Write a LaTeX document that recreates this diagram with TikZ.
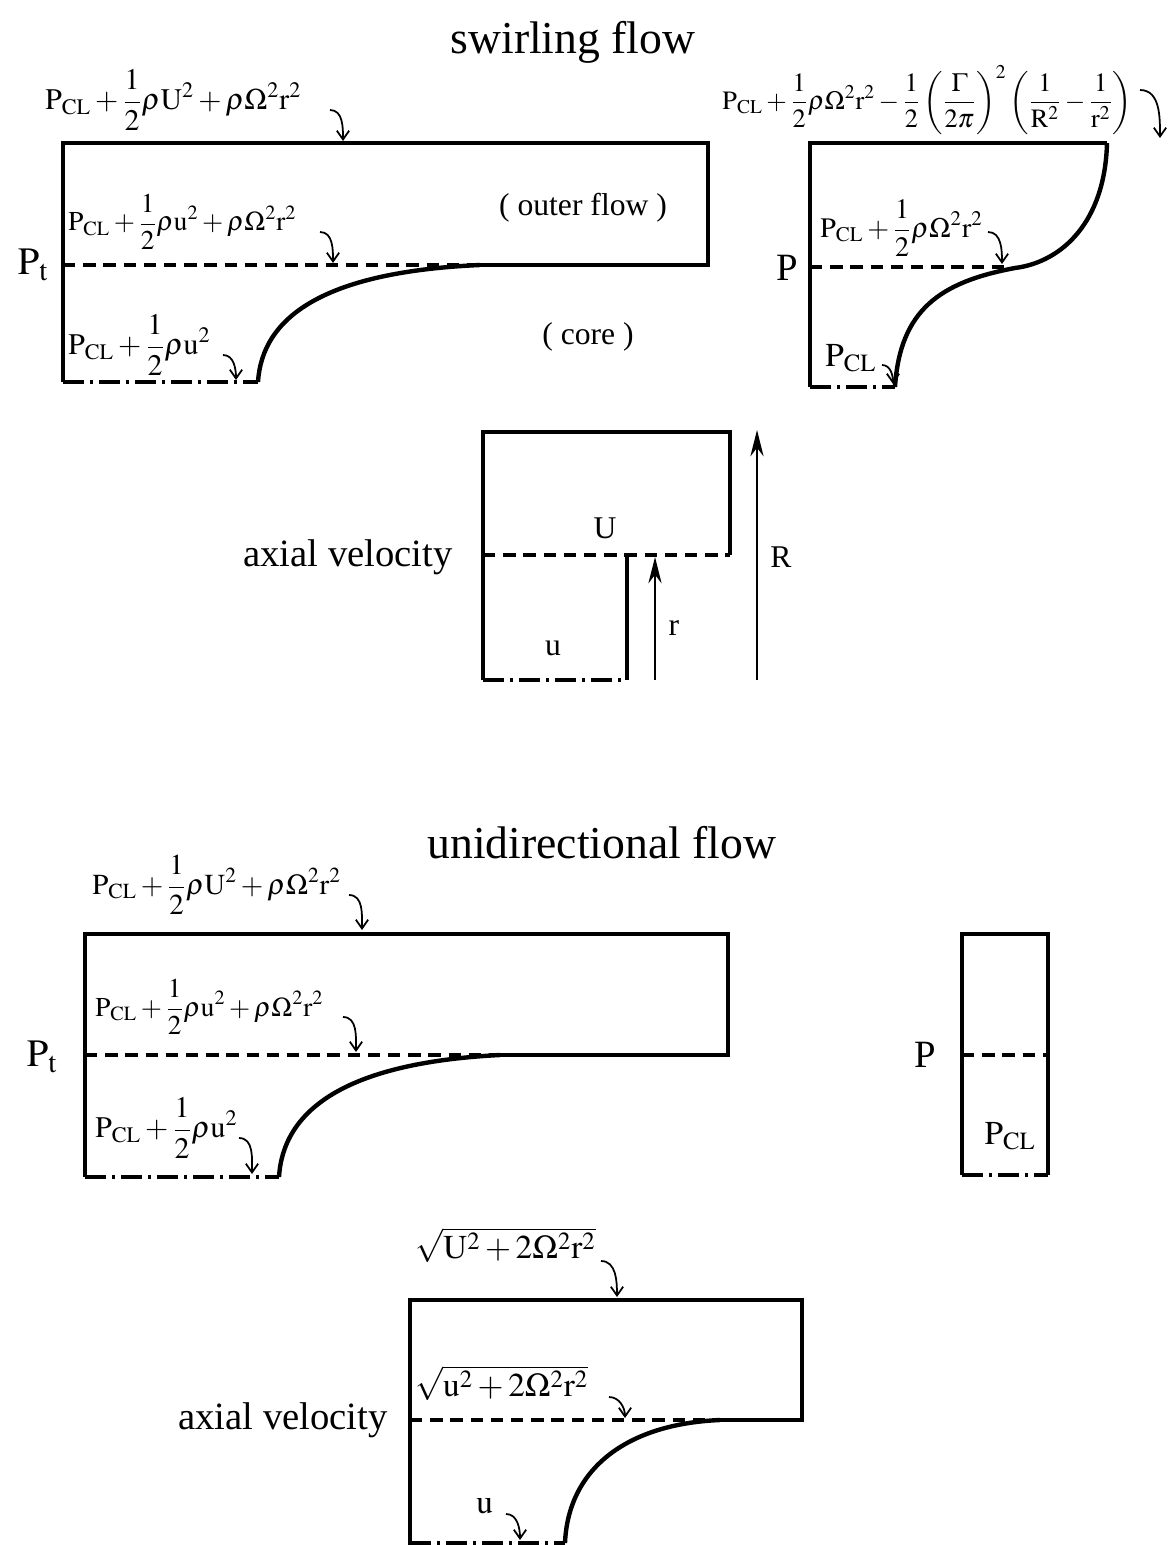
\documentclass[tikz,border=0pt]{standalone}
\usepackage{mathptmx}
\usepackage{fontspec}
\setmainfont{Liberation Serif}
\usetikzlibrary{arrows.meta,calc}
\newcommand{\pcl}{\mathrm{P}_{\mathrm{CL}}}
\newcommand{\half}{\frac{1}{2}}
\tikzset{
  wallline/.style={line width=2.1pt},
  profile/.style={line width=2.5pt},
  dashlvl/.style={line width=2.1pt, dash pattern=on 7pt off 4.5pt},
  centreline/.style={line width=2.1pt, dash pattern=on 12pt off 3.5pt on 1.5pt off 3.5pt},
  hookarrow/.style={line width=1pt, -{Straight Barb[length=5pt,width=7pt]}},
  radarrow/.style={line width=1.1pt, -{Stealth[length=15pt,width=7.5pt]}},
  formula/.style={font=\fontsize{17}{19}\selectfont, inner sep=0pt, anchor=west},
  slimformula/.style={formula, font=\fontsize{15.5}{18}\selectfont},
  title/.style={font=\fontsize{26}{30}\selectfont},
  bigtext/.style={font=\fontsize{22}{26}\selectfont},
  midtext/.style={font=\fontsize{18}{21}\selectfont}
}
\begin{document}
\begin{tikzpicture}[x=0.02cm,y=-0.02cm]
\useasboundingbox (0,0) rectangle (1169,1545);
% swirling flow
\node[title] (ttlS) at (573,42) {swirling flow};
\draw[wallline] (63,382) -- (63,143) -- (708,143) -- (708,265) -- (478,265);
\draw[dashlvl] (63,265) -- (472,265);
\draw[profile] (258,382) .. controls (262,318) and (322,272) .. (480,265);
\draw[centreline] (63,382) -- (258,382);
\node[bigtext] (ptS) at (33,265) {$\mathrm{P}_{\mathrm{t}}$};
\node[midtext] (outer) at (583,208) {( outer flow )};
\node[midtext] (core) at (588,337) {( core )};
\node[formula] (fs1) at (45,100) {$\displaystyle \pcl+\half\rho\mathrm{U}^2+\rho\Omega^2\mathrm{r}^2$};
\node[slimformula] (fs2) at (68,222) {$\displaystyle \pcl+\half\rho\mathrm{u}^2+\rho\Omega^2\mathrm{r}^2$};
\node[formula] (fs3) at (68,345) {$\displaystyle \pcl+\half\rho\mathrm{u}^2$};
\coordinate (hs1) at (343,141);
\coordinate (hs2) at (333,263);
\coordinate (hs3) at (236,380);
\draw[hookarrow] ($(fs1.east -| hs1)+(-13,10)$) to[out=0,in=90] (hs1);
\draw[hookarrow] ($(fs2.east -| hs2)+(-13,10)$) to[out=0,in=90] (hs2);
\draw[hookarrow] ($(fs3.east -| hs3)+(-13,10)$) to[out=0,in=90] (hs3);
% pressure, swirling
\draw[wallline] (810,387) -- (810,143) -- (1107,143);
\draw[profile] (1107,143) .. controls (1105,222) and (1062,262) .. (1015,268) .. controls (940,282) and (900,310) .. (895,387);
\draw[dashlvl] (810,267) -- (1008,267);
\draw[centreline] (810,387) -- (895,387);
\node[bigtext] (pS) at (787,268) {P};
\node[formula,font=\fontsize{15}{17}\selectfont] (fs4) at (722,100) {$\displaystyle \pcl+\half\rho\Omega^2\mathrm{r}^2-\half\left(\frac{\Gamma}{2\pi}\right)^2\left(\frac{1}{\mathrm{R}^2}-\frac{1}{\mathrm{r}^2}\right)$};
\node[formula,font=\fontsize{16}{18}\selectfont] (fs5) at (820,228) {$\displaystyle \pcl+\half\rho\Omega^2\mathrm{r}^2$};
\node[formula,font=\fontsize{19}{22}\selectfont] (fs6) at (825,358) {$\pcl$};
\coordinate (hs4) at (1160,138);
\coordinate (hs5) at (1002,264);
\coordinate (hs6) at (893,384);
\draw[hookarrow] ($(fs4.east -| hs4)+(-20,-10)$) to[out=0,in=90] (hs4);
\draw[hookarrow] ($(fs5.east -| hs5)+(-14,4)$) to[out=0,in=90] (hs5);
\draw[hookarrow] ($(fs6.east -| hs6)+(-11,7)$) to[out=0,in=90] (hs6);
% axial velocity, swirling
\draw[wallline] (483,680) -- (483,432) -- (730,432) -- (730,555);
\draw[dashlvl] (483,555) -- (730,555);
\draw[wallline] (627,555) -- (627,680);
\draw[centreline] (483,680) -- (627,680);
\node[bigtext] (avS) at (348,557) {axial velocity};
\node[midtext] (bigU) at (605,528) {U};
\node[midtext] (smallu) at (553,648) {u};
\coordinate (rbase) at (655,680);
\coordinate (rtip) at (655,557);
\coordinate (Rbase) at (757,680);
\coordinate (Rtip) at (757,430);
\draw[radarrow] (rbase) -- (rtip);
\draw[radarrow] (Rbase) -- (Rtip);
\node[midtext] (rlbl) at (674,628) {r};
\node[midtext] (Rlbl) at (781,557) {R};
% unidirectional flow
\node[title] (ttlU) at (602,843) {unidirectional flow};
\draw[wallline] (85,1177) -- (85,934) -- (728,934) -- (728,1055) -- (498,1055);
\draw[dashlvl] (85,1055) -- (492,1055);
\draw[profile] (279,1177) .. controls (283,1112) and (342,1063) .. (500,1055);
\draw[centreline] (85,1177) -- (279,1177);
\node[bigtext] (ptU) at (42,1057) {$\mathrm{P}_{\mathrm{t}}$};
\node[formula,font=\fontsize{16.5}{19}\selectfont] (fu1) at (92,885) {$\displaystyle \pcl+\half\rho\mathrm{U}^2+\rho\Omega^2\mathrm{r}^2$};
\node[slimformula] (fu2) at (95,1007) {$\displaystyle \pcl+\half\rho\mathrm{u}^2+\rho\Omega^2\mathrm{r}^2$};
\node[formula] (fu3) at (95,1128) {$\displaystyle \pcl+\half\rho\mathrm{u}^2$};
\coordinate (hu1) at (362,930);
\coordinate (hu2) at (356,1052);
\coordinate (hu3) at (252,1174);
\draw[hookarrow] ($(fu1.east -| hu1)+(-13,10)$) to[out=0,in=90] (hu1);
\draw[hookarrow] ($(fu2.east -| hu2)+(-13,10)$) to[out=0,in=90] (hu2);
\draw[hookarrow] ($(fu3.east -| hu3)+(-13,10)$) to[out=0,in=90] (hu3);
% pressure, unidirectional
\draw[wallline] (962,1175) -- (962,934) -- (1048,934) -- (1048,1175);
\draw[dashlvl] (962,1055) -- (1048,1055);
\draw[centreline] (962,1175) -- (1048,1175);
\node[bigtext] (pU) at (925,1055) {P};
\node[font=\fontsize{19}{22}\selectfont] (pclU) at (1010,1136) {$\pcl$};
% axial velocity, unidirectional
\draw[wallline] (410,1545) -- (410,1300) -- (802,1300) -- (802,1420) -- (712,1420);
\draw[dashlvl] (410,1420) -- (706,1420);
\draw[profile] (565,1543) .. controls (568,1470) and (625,1424) .. (720,1420);
\draw[centreline] (410,1543) -- (565,1543);
\node[bigtext] (avU) at (283,1420) {axial velocity};
\node[formula,font=\fontsize{19}{22}\selectfont] (fv1) at (415,1245) {$\sqrt{\mathrm{U}^2+2\Omega^2\mathrm{r}^2}$};
\node[formula,font=\fontsize{19}{22}\selectfont] (fv2) at (415,1383) {$\sqrt{\mathrm{u}^2+2\Omega^2\mathrm{r}^2}$};
\node[formula,font=\fontsize{19}{22}\selectfont] (fv3) at (476,1506) {$\mathrm{u}$};
\coordinate (hv1) at (617,1297);
\coordinate (hv2) at (625,1418);
\coordinate (hv3) at (520,1540);
\draw[hookarrow] ($(fv1.east -| hv1)+(-16,16)$) to[out=0,in=90] (hv1);
\draw[hookarrow] ($(fv2.east -| hv2)+(-16,14)$) to[out=0,in=90] (hv2);
\draw[hookarrow] ($(fv3.east -| hv3)+(-14,8)$) to[out=0,in=90] (hv3);
\end{tikzpicture}
\end{document}
